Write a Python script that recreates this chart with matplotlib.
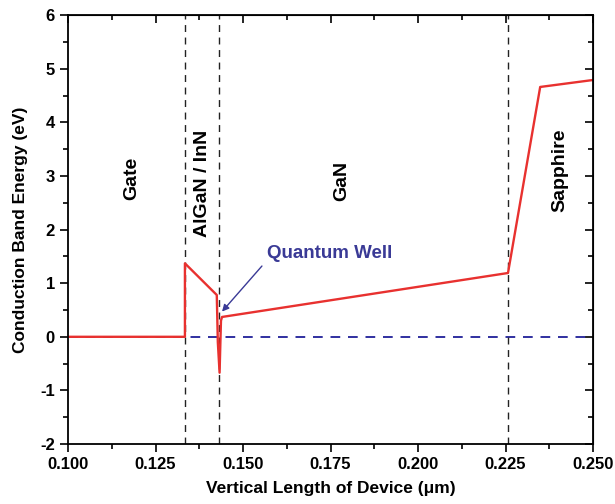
import matplotlib
matplotlib.use("Agg")
import matplotlib.pyplot as plt
from matplotlib.ticker import MultipleLocator, NullFormatter

plt.rcParams['font.family'] = ['Liberation Sans', 'DejaVu Sans']
plt.rcParams['font.weight'] = 'bold'
plt.rcParams['axes.unicode_minus'] = False

# conduction band profile
x_um = [0.100, 0.1334, 0.1334, 0.1425, 0.1428, 0.1433, 0.1437, 0.1440, 0.2257, 0.2349, 0.250]
ec_ev = [0.0, 0.0, 1.37, 0.78, -0.10, -0.67, 0.30, 0.37, 1.19, 4.66, 4.79]

boundaries = [0.1334, 0.1431, 0.2257]
regions = ["Gate", "AlGaN / InN", "GaN", "Sapphire"]
region_x = [0.1183, 0.1383, 0.1783, 0.2406]
region_y = [2.95, 2.87, 2.9, 3.1]
xticks = [0.100, 0.125, 0.150, 0.175, 0.200, 0.225, 0.250]

fig = plt.figure(figsize=(6.15, 5.04), dpi=100)
ax = fig.add_axes([0.1106, 0.119, 0.8537, 0.851])

ax.axhline(0, color='#3030a0', lw=1.4, ls=(0, (5, 4)))
for b in boundaries:
    ax.axvline(b, color='#222222', lw=1.0, ls=(0, (5, 4)))

ax.plot(x_um, ec_ev, color='#e8312f', lw=1.7)

for name, tx, ty in zip(regions, region_x, region_y):
    ax.text(tx, ty, name, rotation=90, ha='center', va='center',
            fontsize=14, fontweight='bold')

ax.text(0.1747, 1.55, "Quantum Well", ha='center', va='center',
        fontsize=13.5, fontweight='bold', color='#3a3a96')
ax.annotate("", xy=(0.1440, 0.47), xytext=(0.1554, 1.32),
            arrowprops=dict(arrowstyle='-|>', color='#3a3a96', lw=1.0,
                            shrinkA=0, shrinkB=0, mutation_scale=10))

ax.set_xlim(0.100, 0.250)
ax.set_ylim(-2, 6)
ax.set_xticks(xticks)
ax.set_xticklabels(["%.3f" % v for v in xticks])
ax.xaxis.set_minor_locator(MultipleLocator(0.0125))
ax.yaxis.set_major_locator(MultipleLocator(1))
ax.yaxis.set_minor_locator(MultipleLocator(0.5))

ax.tick_params(which='both', direction='out', labelsize=12, width=1.2)
ax.tick_params(which='major', length=6)
ax.tick_params(which='minor', length=3.5)
for sp in ax.spines.values():
    sp.set_linewidth(1.3)

# mirrored inward ticks on top and right
top = ax.secondary_xaxis('top')
top.set_xticks(xticks)
top.xaxis.set_minor_locator(MultipleLocator(0.0125))
top.xaxis.set_major_formatter(NullFormatter())
top.tick_params(which='both', direction='in', width=1.2)
top.tick_params(which='major', length=6)
top.tick_params(which='minor', length=3.5)
right = ax.secondary_yaxis('right')
right.yaxis.set_major_locator(MultipleLocator(1))
right.yaxis.set_minor_locator(MultipleLocator(0.5))
right.yaxis.set_major_formatter(NullFormatter())
right.tick_params(which='both', direction='in', width=1.2)
right.tick_params(which='major', length=6)
right.tick_params(which='minor', length=3.5)

ax.set_xlabel("Vertical Length of Device (\u03bcm)", fontsize=12.5, fontweight='bold', labelpad=6)
ax.set_ylabel("Conduction Band Energy (eV)", fontsize=12.5, fontweight='bold', labelpad=9)

fig.savefig("out.png", dpi=100)
